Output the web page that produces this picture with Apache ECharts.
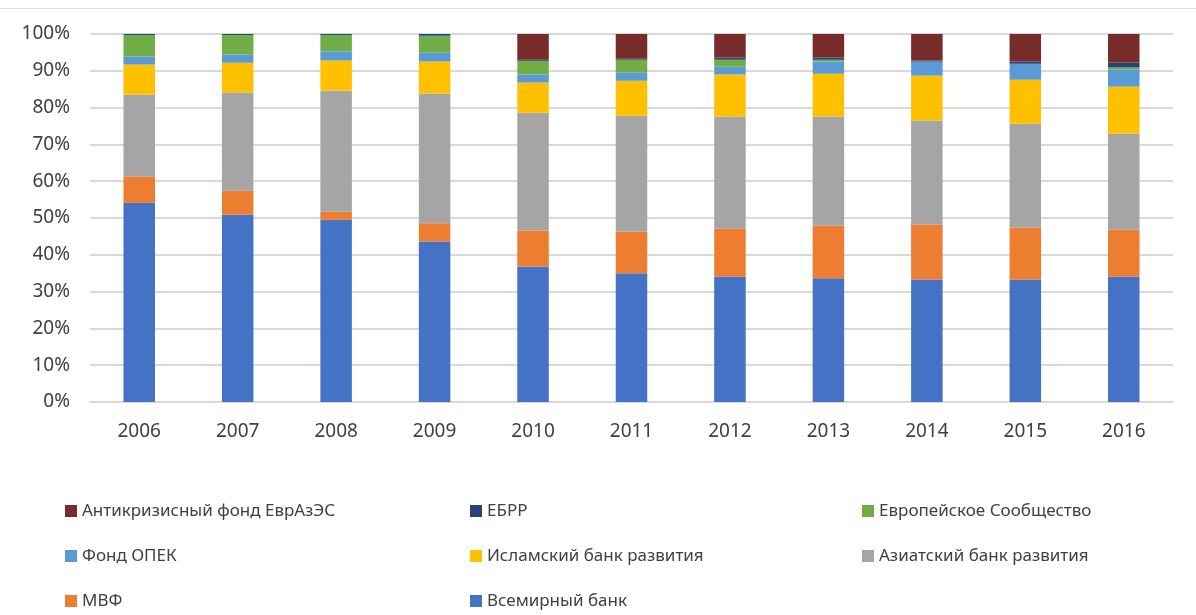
<!DOCTYPE html>
<html>
<head>
<meta charset="utf-8">
<script src="https://cdn.jsdelivr.net/npm/echarts@6/dist/echarts.min.js"></script>
<style>
  html, body { margin: 0; padding: 0; background: #fff; }
  #chart { width: 1196px; height: 615px; }
</style>
</head>
<body>
<div id="chart"></div>
<script>
const years = ['2006', '2007', '2008', '2009', '2010', '2011', '2012', '2013', '2014', '2015', '2016']

// shares, % (bottom of the stack first)
const worldBank = [54.1, 50.9, 49.5, 43.6, 36.8, 35.0, 34.1, 33.6, 33.3, 33.3, 34.1]
const imf = [7.2, 6.5, 2.2, 5.0, 9.8, 11.3, 13.0, 14.3, 14.9, 14.1, 12.7]
const asianBank = [22.2, 26.7, 32.9, 35.2, 32.0, 31.5, 30.5, 29.7, 28.3, 28.2, 26.1]
const islamicBank = [8.2, 8.1, 8.2, 8.7, 8.2, 9.5, 11.4, 11.6, 12.2, 12.0, 12.8]
const opecFund = [2.2, 2.2, 2.5, 2.4, 2.2, 2.2, 2.1, 3.3, 3.8, 4.3, 4.6]
const euroCommunity = [5.8, 5.3, 4.4, 4.6, 3.7, 3.5, 1.9, 0.5, 0, 0, 0.6]
const ebrd = [0.3, 0.3, 0.3, 0.5, 0.3, 0.3, 0.6, 0.6, 0.3, 0.6, 1.3]
const eurasecFund = [0, 0, 0, 0, 7.0, 6.7, 6.4, 6.4, 7.2, 7.5, 7.8]

const series = [
  { name: 'Всемирный банк', data: worldBank, color: '#4472C4' },
  { name: 'МВФ', data: imf, color: '#ED7D31' },
  { name: 'Азиатский банк развития', data: asianBank, color: '#A5A5A5' },
  { name: 'Исламский банк развития', data: islamicBank, color: '#FFC000' },
  { name: 'Фонд ОПЕК', data: opecFund, color: '#5B9BD5' },
  { name: 'Европейское Сообщество', data: euroCommunity, color: '#70AD47' },
  { name: 'ЕБРР', data: ebrd, color: '#264478' },
  { name: 'Антикризисный фонд ЕврАзЭС', data: eurasecFund, color: '#772C2A' }
]

const font = "'Noto Sans', 'DejaVu Sans', sans-serif"
const textColor = '#404040'

// one vertical legend per column, like the excel layout
const legendBase = {
  orient: 'vertical',
  top: 501,
  height: 112,
  padding: 0,
  itemWidth: 12,
  itemHeight: 12,
  itemGap: 25,
  icon: 'rect',
  selectedMode: false,
  textStyle: { color: textColor, fontSize: 17, fontFamily: font, lineHeight: 20 }
}

const chart = echarts.init(document.getElementById('chart'))
chart.setOption({
  animation: false,
  color: series.map(s => s.color),
  textStyle: { fontFamily: font },
  graphic: [
    {
      type: 'line',
      shape: { x1: 0, y1: 8.5, x2: 1196, y2: 8.5 },
      style: { stroke: '#D9D9D9', lineWidth: 1 }
    }
  ],
  legend: [
    Object.assign({}, legendBase, { left: 65, data: ['Антикризисный фонд ЕврАзЭС', 'Фонд ОПЕК', 'МВФ'] }),
    Object.assign({}, legendBase, { left: 470, data: ['ЕБРР', 'Исламский банк развития', 'Всемирный банк'] }),
    Object.assign({}, legendBase, { left: 862, data: ['Европейское Сообщество', 'Азиатский банк развития'] })
  ],
  grid: {
    left: 90,
    right: 23,
    top: 34,
    bottom: 213
  },
  xAxis: {
    type: 'category',
    data: years,
    axisLine: { lineStyle: { color: '#D9D9D9', width: 2 } },
    axisTick: { show: false },
    axisLabel: { color: textColor, fontSize: 19, fontFamily: font, margin: 20 }
  },
  yAxis: {
    type: 'value',
    min: 0,
    max: 100,
    interval: 10,
    axisLine: { show: false },
    axisTick: { show: false },
    splitLine: { lineStyle: { color: '#D9D9D9', width: 2 } },
    axisLabel: { color: textColor, fontSize: 19, fontFamily: font, margin: 20, formatter: '{value}%' }
  },
  series: series.map(s => ({
    name: s.name,
    type: 'bar',
    stack: 'total',
    barWidth: '32%',
    data: s.data,
    itemStyle: { color: s.color }
  }))
})
</script>
</body>
</html>
